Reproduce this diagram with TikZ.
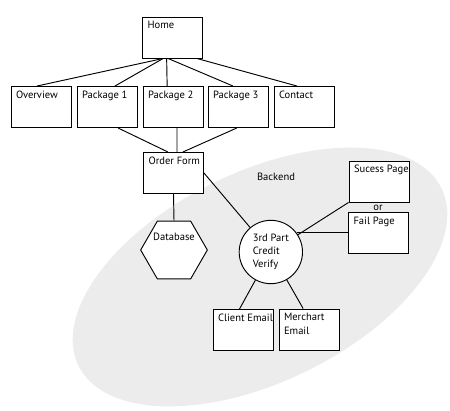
\documentclass[tikz,border=0pt]{standalone}
\usepackage{fontspec}
\setmainfont{PT Sans}
\usepackage{tikz}
\usetikzlibrary{shapes.geometric}

\tikzset{
	caja/.style={draw, fill=white, line width=0.8pt, minimum width=18mm, minimum height=12.3mm, inner sep=0pt},
	texto/.style={anchor=north west, inner sep=0pt, xshift=4.5pt, yshift=-4pt, align=left, font=\fontsize{9}{12}\selectfont},
	linea/.style={line width=0.8pt},
}

\begin{document}
\begin{tikzpicture}[x=0.3mm, y=0.3mm, font=\fontsize{9}{11}\selectfont]
				\useasboundingbox (0,0) rectangle (450,410);

				% Dibujar la zona del backend
				\fill[gray!15] (260,133) ellipse [x radius=202, y radius=105, rotate=26];
				\node (backend) at (276,233) {Backend};

				% Dibujar las cajas del sitio
				\node[caja, label={[texto]north west:Home}] (home) at (172.5,372.5) {};
				\node[caja, label={[texto]north west:Overview}] (overview) at (41,303) {};
				\node[caja, label={[texto]north west:Package 1}] (pkg1) at (107,303) {};
				\node[caja, label={[texto]north west:Package 2}] (pkg2) at (173,303) {};
				\node[caja, label={[texto]north west:Package 3}] (pkg3) at (238,303) {};
				\node[caja, label={[texto]north west:Contact}] (contact) at (304,303) {};
				\node[caja, label={[texto]north west:Order Form}] (order) at (173.5,237) {};

				% Dibujar el backend
				\node[draw, fill=white, linea, regular polygon, regular polygon sides=6, minimum size=20mm, inner sep=0pt,
					label={[anchor=north, yshift=-7pt]north:Database}] (db) at (174,160) {};
				\node[draw, fill=white, linea, circle, minimum size=19mm, inner sep=0pt, align=left, xshift=2pt] (cv) at (268.5,158) {3rd Part\\Credit\\Verify};
				\node[caja, label={[texto]north west:Sucess Page}] (sucess) at (379,228.5) {};
				\node (or) at (378,202) {or};
				\node[caja, label={[texto]north west:Fail Page}] (fail) at (378.5,177) {};
				\node[caja, label={[texto]north west:Client Email}] (client) at (243,80) {};
				\node[caja, label={[texto]north west:Merchart\\Email}] (merch) at (309,80.5) {};

				% Dibujar las conexiones
				\draw[linea] ([xshift=-8pt]home.south) -- ([xshift=-3.4pt]overview.north);
				\draw[linea] ([xshift=-8pt]home.south) -- ([xshift=6.8pt]pkg1.north);
				\draw[linea] ([xshift=-5pt]home.south) -- ([xshift=-5pt]pkg2.north);
				\draw[linea] ([xshift=-3.8pt]home.south) -- ([xshift=-4.3pt]pkg3.north);
				\draw[linea] ([xshift=20.8pt]home.south) -- ([xshift=-6pt]contact.north);
				\draw[linea] ([xshift=9.4pt]pkg1.south) -- ([xshift=-4.7pt]order.north);
				\draw[linea] ([xshift=3.4pt]pkg2.south) -- ([xshift=3pt]order.north);
				\draw[linea] ([xshift=-1pt]pkg3.south) -- ([xshift=8pt]order.north);
				\draw[linea] (order.south) -- (db.north);
				\draw[linea] (order.east) -- (cv);
				\draw[linea] (cv) -- (sucess.south west);
				\draw[linea] (cv.37) -- (cv.37 -| fail.west);
				\draw[linea] (cv) -- ([xshift=-3pt]client.north);
				\draw[linea] (cv) -- ([xshift=-5pt]merch.north);

			\end{tikzpicture}
\end{document}
